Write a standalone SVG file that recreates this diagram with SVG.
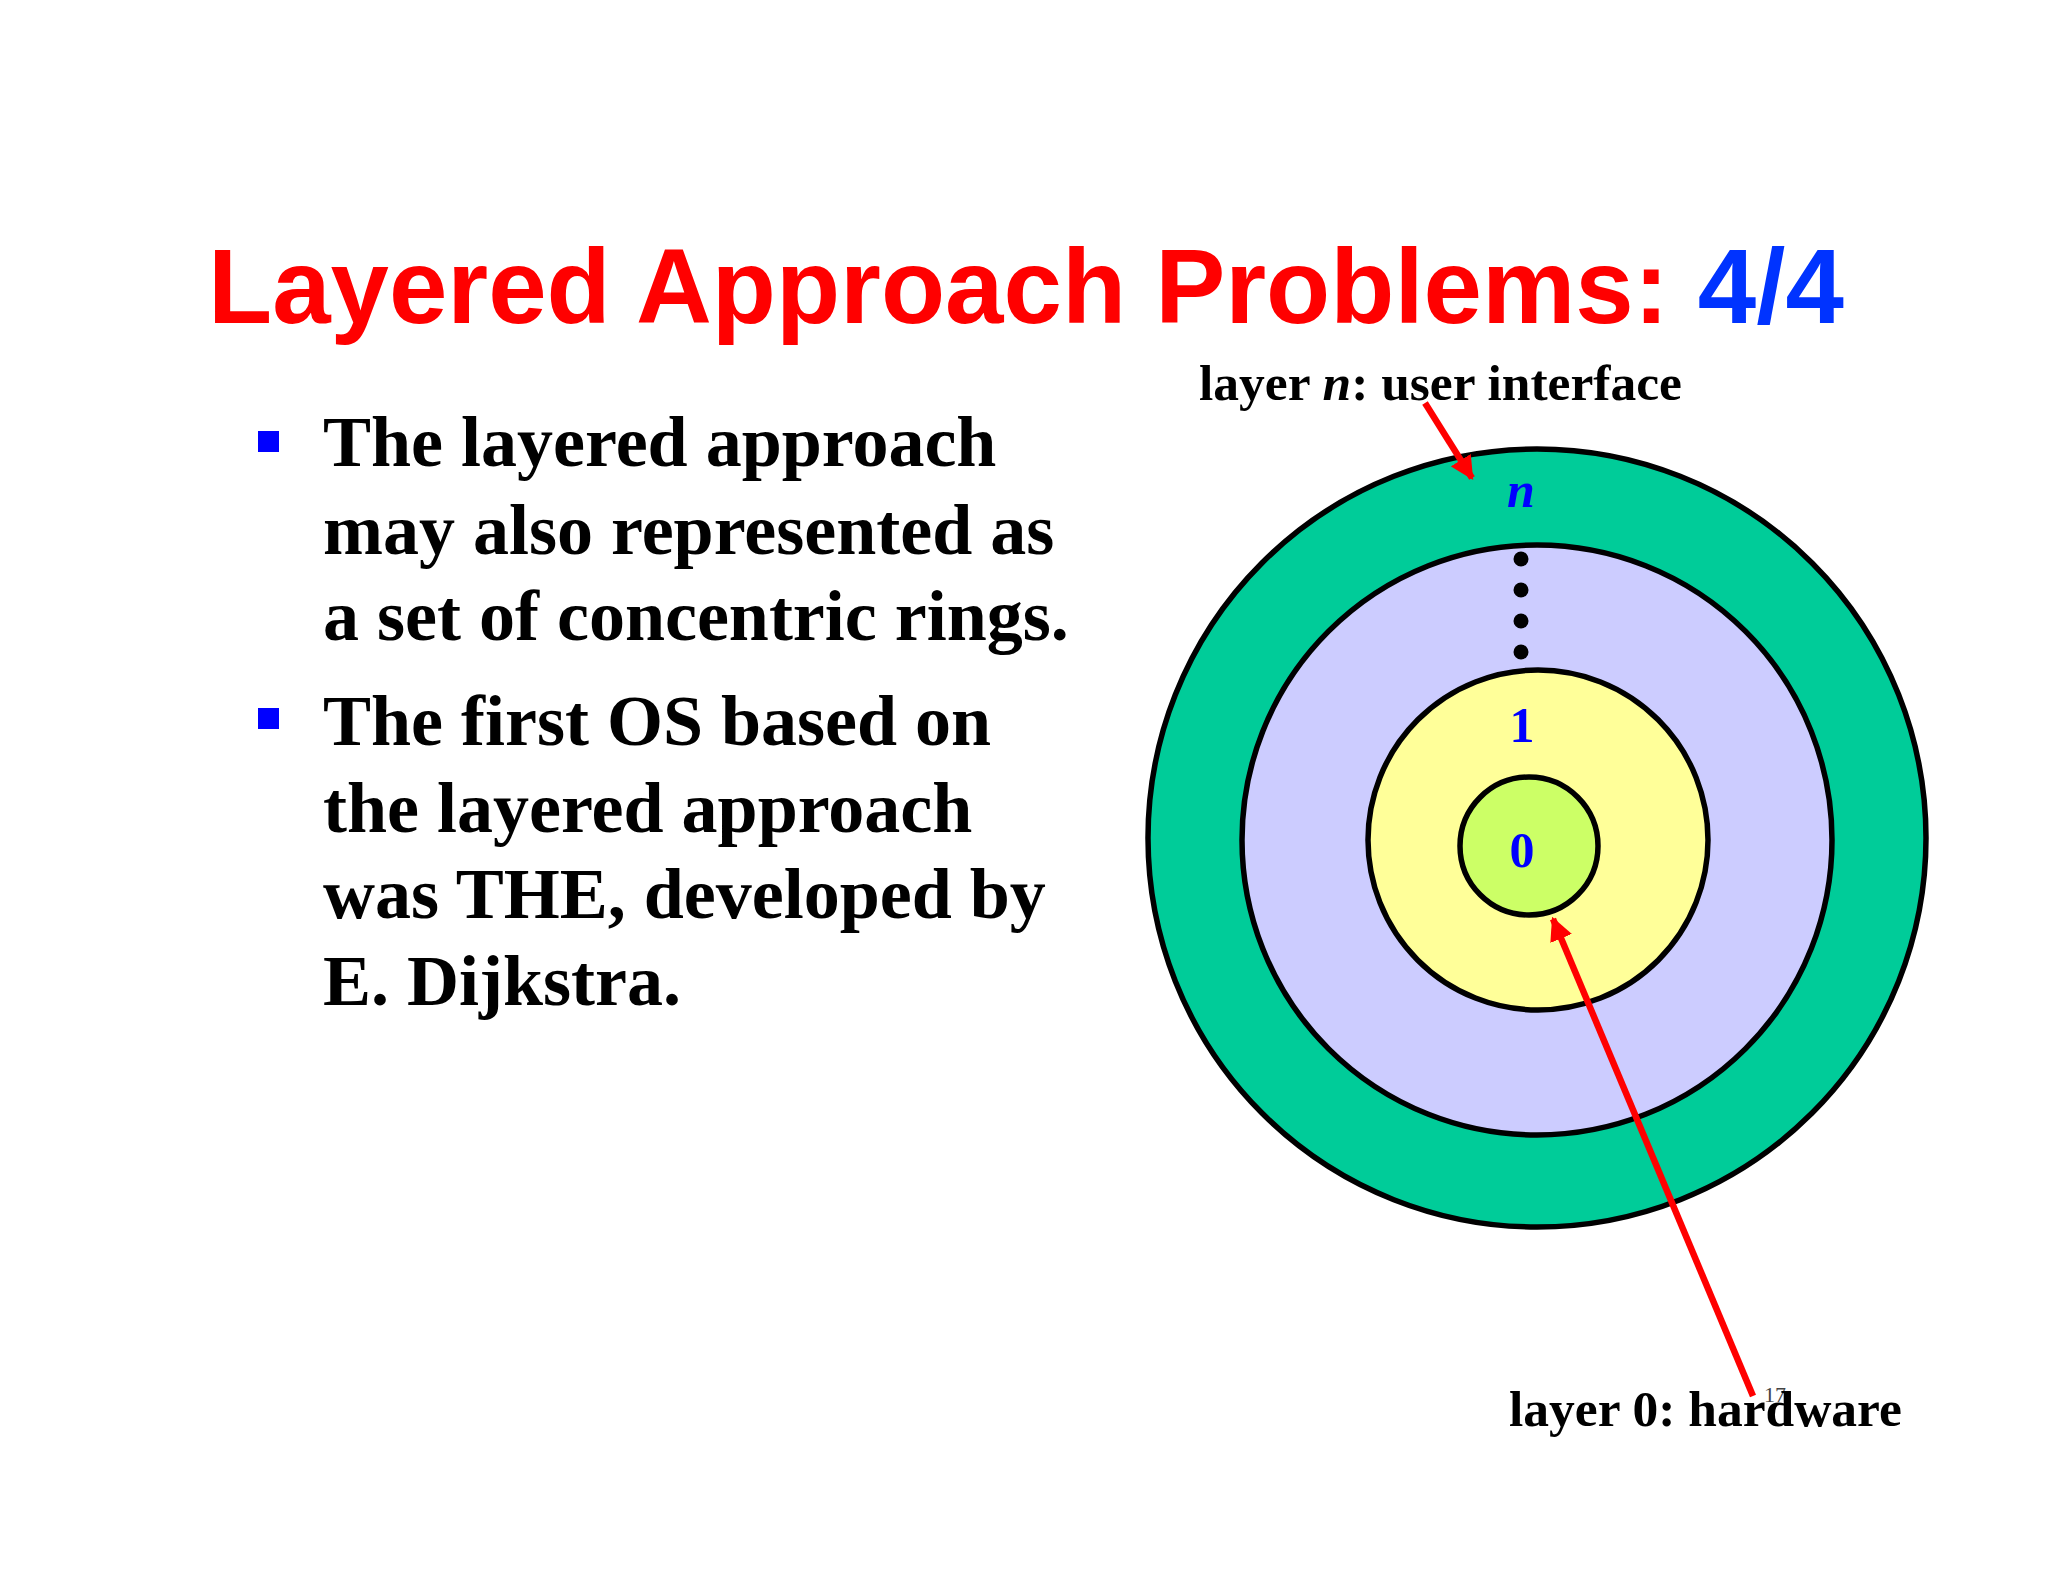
<svg xmlns="http://www.w3.org/2000/svg" width="2048" height="1582" viewBox="0 0 2048 1582">
<defs>
<style>
.title{font-family:"Liberation Sans",Arial,sans-serif;font-weight:bold;font-size:105px}
.body{font-family:"Liberation Serif","Times New Roman",serif;font-weight:bold;font-size:72px;fill:#000}
.lbl{font-family:"Liberation Serif","Times New Roman",serif;font-weight:bold;font-size:51.5px;fill:#000}
.num{font-family:"Liberation Serif","Times New Roman",serif;font-weight:bold;font-size:50px;fill:#0000FF;text-anchor:middle}
.ring{stroke:#000;stroke-width:5.5}
.arrow{stroke:#FF0000;stroke-width:6.5;fill:none}
</style>
<marker id="ah" viewBox="0 0 10 10" refX="9" refY="5" markerWidth="3.6" markerHeight="3.6" orient="auto" markerUnits="strokeWidth">
<path d="M0,0 L10,5 L0,10 z" fill="#FF0000"/>
</marker>
</defs>
<rect width="2048" height="1582" fill="#FFFFFF"/>
<text class="title" x="208" y="323"><tspan fill="#FF0000">Layered Approach Problems: </tspan><tspan fill="#0033FF">4/4</tspan></text>
<g id="bullets">
<rect x="258" y="431" width="21" height="21" fill="#0000FF"/>
<text class="body" x="323" y="466">The layered approach</text>
<text class="body" x="323" y="554">may also represented as</text>
<text class="body" x="323" y="640">a set of concentric rings.</text>
<rect x="258" y="708" width="21" height="21" fill="#0000FF"/>
<text class="body" x="323" y="745">The first OS based on</text>
<text class="body" x="323" y="832">the layered approach</text>
<text class="body" x="323" y="918">was THE, developed by</text>
<text class="body" x="323" y="1005">E. Dijkstra.</text>
</g>
<g id="ring-n"><circle class="ring" cx="1537" cy="838" r="389" fill="#00CC99"/>
<text class="num" x="1521" y="507" font-style="italic" font-size="48">n</text></g>
<g id="ring-middle"><circle class="ring" cx="1537" cy="840" r="295" fill="#CCCCFF"/>
<circle cx="1521" cy="559" r="7.5" fill="#000"/>
<circle cx="1521" cy="590" r="7.5" fill="#000"/>
<circle cx="1521" cy="621" r="7.5" fill="#000"/>
<circle cx="1521" cy="652" r="7.5" fill="#000"/></g>
<g id="ring-1"><circle class="ring" cx="1538" cy="840" r="170" fill="#FFFF99"/>
<text class="num" x="1522" y="742">1</text></g>
<g id="ring-0"><circle class="ring" cx="1529" cy="846" r="69" fill="#CCFF66"/>
<text class="num" x="1522" y="867">0</text></g>
<g id="label-n"><text class="lbl" x="1199" y="400">layer <tspan font-style="italic">n</tspan>: user interface</text></g>
<g id="label-0">
<text x="1764" y="1402" font-family="'Liberation Serif',serif" font-size="22" fill="#444">17</text>
<text class="lbl" x="1509" y="1426">layer 0: hardware</text></g>
<g id="connectors">
<line class="arrow" x1="1425" y1="403" x2="1472" y2="478" marker-end="url(#ah)"/>
<line class="arrow" x1="1753" y1="1396" x2="1553" y2="919" marker-end="url(#ah)"/>
</g>
</svg>
